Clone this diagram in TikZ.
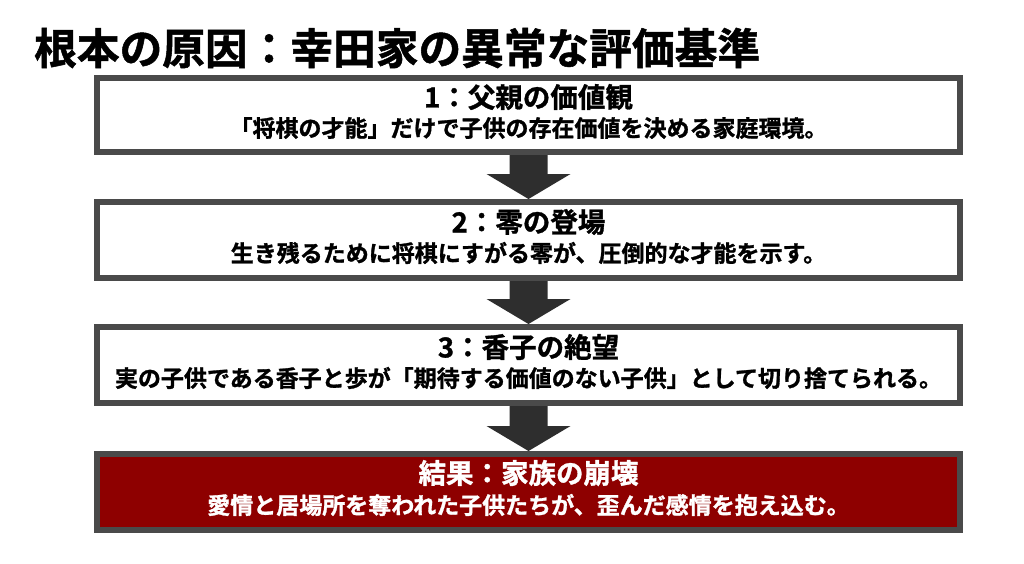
\documentclass[tikz,border=0pt]{standalone}
\usepackage{fontspec}
\setmainfont{Noto Sans CJK JP}[UprightFont=* Bold, BoldFont=* Bold, UprightFeatures={FakeBold=1.2}]
\usetikzlibrary{calc}
\definecolor{bordergray}{HTML}{4A4A4A}
\definecolor{arrowgray}{HTML}{2E2E2E}
\definecolor{resultred}{HTML}{8E0000}
\tikzset{
  stagebox/.style={draw=bordergray, line width=6pt, fill=white, minimum width=863pt, minimum height=76pt, inner sep=0pt},
  resultbox/.style={stagebox, fill=resultred},
  headline/.style={inner sep=0pt, font=\fontsize{27.5pt}{30pt}\selectfont},
  bodyline/.style={inner sep=0pt, font=\fontsize{23pt}{26pt}\selectfont},
  titletext/.style={inner sep=0pt, anchor=west, font=\fontsize{42.7pt}{46pt}\selectfont},
  flowarrow/.style={fill=arrowgray}
}
\begin{document}
\begin{tikzpicture}[x=1pt,y=1pt]
\useasboundingbox[fill=white] (0,0) rectangle (1024,-563);
\node[titletext] (title) at (34,-48) {根本の原因：幸田家の異常な評価基準};

\node[stagebox, minimum height=74pt] (b1) at (528.5,-115) {};
\node[stagebox] (b2) at (528.5,-240) {};
\node[stagebox] (b3) at (528.5,-365) {};
\node[resultbox] (b4) at (528.5,-492) {};

\node[headline] (h1) at ($(b1.center)+(0,18)$) {1：父親の価値観};
\node[bodyline] (t1) at ($(b1.center)+(0,-13)$) {「将棋の才能」だけで子供の存在価値を決める家庭環境。};
\node[headline] (h2) at ($(b2.center)+(0,18)$) {2：零の登場};
\node[bodyline] (t2) at ($(b2.center)+(0,-13)$) {生き残るために将棋にすがる零が、圧倒的な才能を示す。};
\node[headline] (h3) at ($(b3.center)+(0,18)$) {3：香子の絶望};
\node[bodyline] (t3) at ($(b3.center)+(0,-13)$) {実の子供である香子と歩が「期待する価値のない子供」として切り捨てられる。};
\node[headline, text=white] (h4) at ($(b4.center)+(0,19)$) {結果：家族の崩壊};
\node[bodyline, text=white] (t4) at ($(b4.center)+(0,-13)$) {愛情と居場所を奪われた子供たちが、歪んだ感情を抱え込む。};

\foreach \a/\b in {b1/b2, b2/b3, b3/b4}{
  \fill[flowarrow] ($(\a.south)+(-19,0)$) -- ($(\a.south)+(19,0)$)
    -- ($(\b.north)+(19,25)$) -- ($(\b.north)+(42,25)$) -- (\b.north)
    -- ($(\b.north)+(-42,25)$) -- ($(\b.north)+(-19,25)$) -- cycle;
}
\end{tikzpicture}
\end{document}
